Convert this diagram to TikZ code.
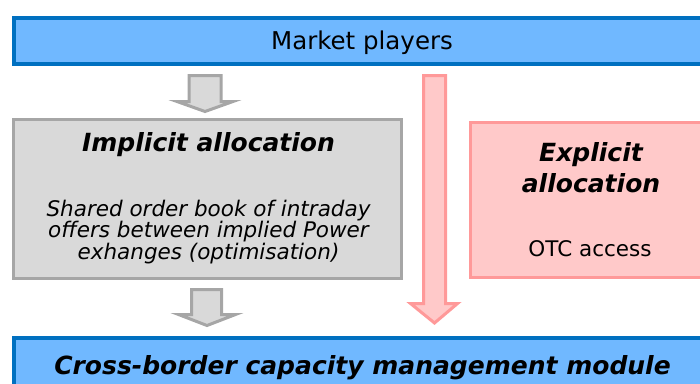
\documentclass[tikz,border=0pt]{standalone}
\usepackage{fontspec}
\setmainfont{DejaVu Sans}[BoldFont={DejaVu Sans Bold},ItalicFont={DejaVu Sans Oblique},BoldItalicFont={DejaVu Sans Bold Oblique}]
\usetikzlibrary{positioning}

\definecolor{boxblue}{HTML}{70B8FF}
\definecolor{lineblue}{HTML}{0070C0}
\definecolor{boxgray}{HTML}{D9D9D9}
\definecolor{linegray}{HTML}{A6A6A6}
\definecolor{boxpink}{HTML}{FFC9C9}
\definecolor{linepink}{HTML}{FF9999}

\tikzset{
  bluebox/.style={draw=lineblue,fill=boxblue,line width=4pt,inner sep=0pt},
  graybox/.style={draw=linegray,fill=boxgray,line width=3pt,inner sep=0pt},
  pinkbox/.style={draw=linepink,fill=boxpink,line width=3pt,inner sep=0pt},
  grayarrow/.style={draw=linegray,fill=boxgray,line width=3pt,line join=miter},
  pinkarrow/.style={draw=linepink,fill=boxpink,line width=3pt,line join=miter},
  boxtitle/.style={font=\fontsize{25}{31}\selectfont\bfseries\itshape,align=center,inner sep=0pt,anchor=base},
  boxtext/.style={font=\fontsize{21.5}{21.5}\selectfont,align=center,inner sep=0pt,anchor=base},
}

\begin{document}
\begin{tikzpicture}[x=1pt,y=-1pt]
        \useasboundingbox (0,0) rectangle (700,383);

        % boxes
        \node[bluebox,minimum width=697pt,minimum height=46pt] (market) at (362.3,40.8) {};
        \node[graybox,minimum width=388pt,minimum height=159pt] (implicit) at (207.5,199) {};
        \node[pinkbox,minimum width=239pt,minimum height=155pt] (explicit) at (590,200) {};
        \node[bluebox,minimum width=697pt,minimum height=56pt] (module) at (362.3,366) {};

        % texts (base = last line)
        \node[boxtext,font=\fontsize{24.5}{24.5}\selectfont] (markettxt) at (362,49.3) {Market players};
        \node[boxtitle] (implicittitle) at (208.5,151) {Implicit allocation};
        \node[boxtext,font=\fontsize{21.5}{21.5}\selectfont\itshape] (implicittxt) at (208.5,259)
            {Shared order book of intraday\\offers between implied Power\\exhanges (optimisation)};
        \node[boxtitle] (explicittitle) at (591,192.7) {Explicit\\allocation};
        \node[boxtext] (explicittxt) at (590,256.7) {OTC access};
        \node[boxtitle] (moduletxt) at (362.5,374) {Cross-border capacity management module};

        % block arrows
        \draw[grayarrow] (189,75.5) -- (221,75.5) -- (221,101.5) -- (233,101.5)
            -- (205,111.5) -- (177,101.5) -- (189,101.5) -- cycle;
        \draw[grayarrow] (191.5,289.5) -- (221.5,289.5) -- (221.5,314.5) -- (235.5,314.5)
            -- (207,325.5) -- (178.5,314.5) -- (191.5,314.5) -- cycle;
        \draw[pinkarrow] (423.5,75.5) -- (445.5,75.5) -- (445.5,303.5) -- (457.5,303.5)
            -- (434.5,323) -- (410.5,303.5) -- (423.5,303.5) -- cycle;
\end{tikzpicture}
\end{document}
